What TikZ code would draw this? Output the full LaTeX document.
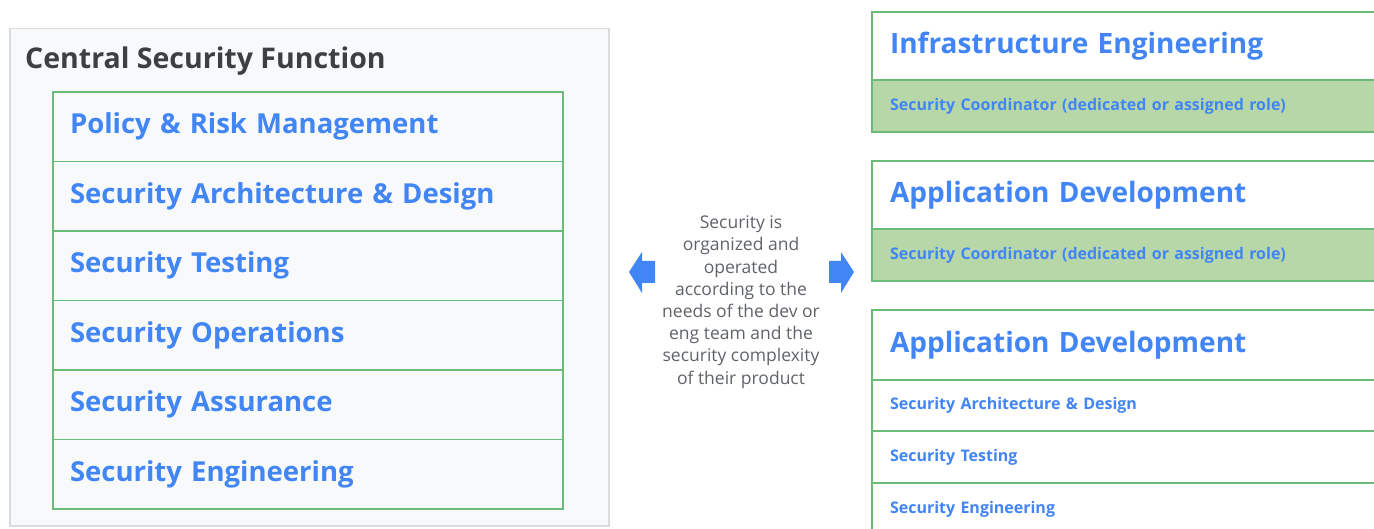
\documentclass[tikz,border=0pt]{standalone}
\usepackage{fontspec}
\setmainfont{Open Sans}
\definecolor{gblue}{HTML}{4285F4}
\definecolor{ggreen}{HTML}{6ABB78}
\definecolor{gfill}{HTML}{B7D7A8}
\definecolor{ggray}{HTML}{F8F9FA}
\definecolor{gborder}{HTML}{DADCE0}
\definecolor{gtext}{HTML}{3C4043}
\definecolor{gmid}{HTML}{5F6368}
\tikzset{
  cell/.style={draw=ggreen, line width=1.2pt, anchor=north west, inner xsep=17pt, inner ysep=0pt, outer sep=0pt,
     minimum width=510pt, minimum height=69.5pt, text width=476pt, align=left,
     font=\fontsize{27.5}{31}\selectfont\bfseries, text=gblue},
  head/.style={draw=ggreen, line width=1.2pt, anchor=north west, inner xsep=18pt, inner ysep=0pt, outer sep=0pt,
     minimum width=520pt, minimum height=68pt, text width=484pt, align=left, fill=white,
     font=\fontsize{28}{32}\selectfont\bfseries, text=gblue},
  sub/.style={draw=ggreen, line width=1.2pt, anchor=north west, inner xsep=18pt, inner ysep=0pt, outer sep=0pt,
     minimum width=520pt, minimum height=52pt, text width=484pt, align=left, fill=white,
     font=\fontsize{16}{19}\selectfont\bfseries, text=gblue},
  coord/.style={sub, fill=gfill},
  blockarrow/.style={fill=gblue, draw=none}
}
\begin{document}
\begin{tikzpicture}[x=1pt,y=-1pt]
\useasboundingbox (0,0) rectangle (1374,529);
% left panel
\node[draw=gborder, fill=ggray, line width=1.5pt, anchor=north west, minimum width=599pt, minimum height=497pt, inner sep=0pt] (panel) at (9,28) {};
\node[anchor=west, inner sep=0pt, text=gtext, font=\fontsize{28.5}{32}\selectfont\bfseries] (title) at (25,61) {Central Security Function};
\node[cell] (c1) at (53,92) {Policy \& Risk Management};
\node[cell] (c2) at (c1.south west) {Security Architecture \& Design};
\node[cell] (c3) at (c2.south west) {Security Testing};
\node[cell] (c4) at (c3.south west) {Security Operations};
\node[cell] (c5) at (c4.south west) {Security Assurance};
\node[cell] (c6) at (c5.south west) {Security Engineering};
% middle
\node[align=center, text=gmid, inner sep=0pt, font=\fontsize{17.5}{22.2}\selectfont] (mid) at (741,302)
 {Security is\\organized and\\operated\\according to the\\needs of the dev or\\eng team and the\\security complexity\\of their product};
\fill[blockarrow] (629,272) -- (642,252) -- (642,261) -- (655,261) -- (655,283) -- (642,283) -- (642,293) -- cycle;
\fill[blockarrow] (854,272) -- (841,252) -- (841,261) -- (829,261) -- (829,283) -- (841,283) -- (841,293) -- cycle;
% right boxes
\node[head] (h1) at (872,12) {Infrastructure Engineering};
\node[coord] (s1) at (h1.south west) {Security Coordinator (dedicated or assigned role)};
\node[head] (h2) at (872,161) {Application Development};
\node[coord] (s2) at (h2.south west) {Security Coordinator (dedicated or assigned role)};
\node[head, minimum height=70pt] (h3) at (872,310) {Application Development};
\node[sub, minimum height=51pt] (r1) at (h3.south west) {Security Architecture \& Design};
\node[sub, minimum height=52pt] (r2) at (r1.south west) {Security Testing};
\node[sub, minimum height=52pt] (r3) at (r2.south west) {Security Engineering};
\end{tikzpicture}
\end{document}
